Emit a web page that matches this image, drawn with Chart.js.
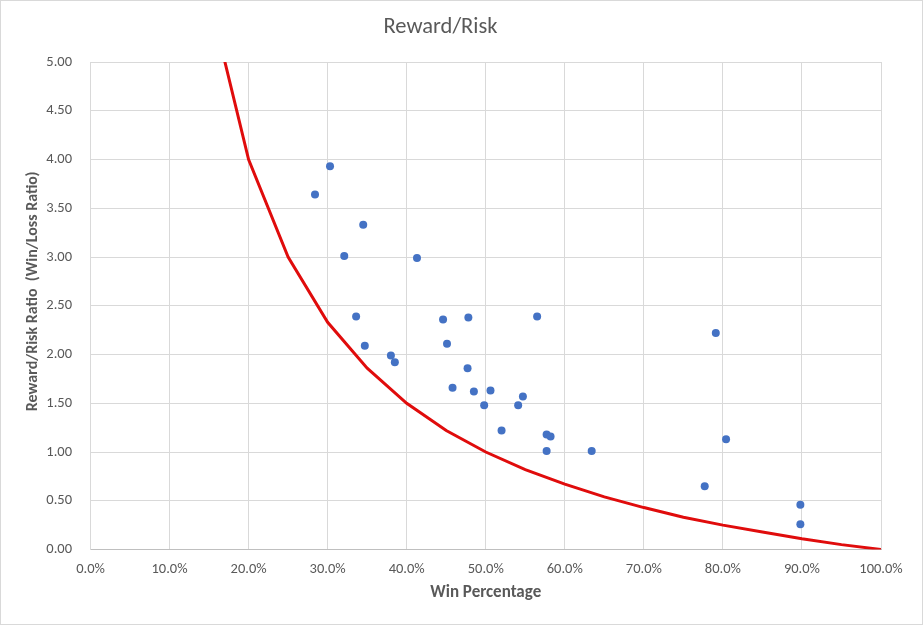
<!DOCTYPE html>
<html>
<head>
<meta charset="utf-8">
<script src="https://cdn.jsdelivr.net/npm/chart.js@4.4.1/dist/chart.umd.min.js"></script>
<style>
  html, body { margin: 0; padding: 0; background: #fff; }
  #wrap { position: relative; width: 923px; height: 625px; }
  canvas { display: block; }
</style>
</head>
<body>
<div id="wrap"><canvas id="c" width="923" height="625"></canvas></div>
<script>
// Scatter: observed win percentage (%) vs reward/risk ratio
const winPct = [28.4, 30.3, 32.1, 34.5, 33.6, 34.7, 38.0, 38.5, 41.3, 44.6,
                45.1, 47.8, 45.8, 47.7, 48.5, 49.8, 50.6, 52.0, 54.1, 54.7,
                56.5, 57.7, 58.2, 57.7, 63.4, 77.7, 79.1, 80.4, 89.8, 89.8];
const rewardRisk = [3.64, 3.93, 3.01, 3.33, 2.39, 2.09, 1.99, 1.92, 2.99, 2.36,
                    2.11, 2.38, 1.66, 1.86, 1.62, 1.48, 1.63, 1.22, 1.48, 1.57,
                    2.39, 1.18, 1.16, 1.01, 1.01, 0.65, 2.22, 1.13, 0.46, 0.26];
// Breakeven curve
const breakevenPct = [15, 20, 25, 30, 35, 40, 45, 50, 55, 60, 65, 70, 75, 80, 85, 90, 95, 100];
const breakevenRatio = [5.67, 4.00, 3.00, 2.33, 1.86, 1.50, 1.22, 1.00, 0.82, 0.67,
                        0.54, 0.43, 0.33, 0.25, 0.18, 0.11, 0.05, 0.00];
// Axis ticks
const xTicks = [0, 10, 20, 30, 40, 50, 60, 70, 80, 90, 100];
const yTicks = [0, 0.5, 1, 1.5, 2, 2.5, 3, 3.5, 4, 4.5, 5];

const FONT = "Carlito, Lato, 'Liberation Sans', sans-serif";
const TXT = '#595959';

const scatterPts = winPct.map((x, i) => ({ x: x, y: rewardRisk[i] }));
const linePts = breakevenPct.map((x, i) => ({ x: x, y: breakevenRatio[i] }));

const frame = {
  id: 'frame',
  beforeDraw(chart) {
    const ctx = chart.ctx;
    ctx.save();
    ctx.fillStyle = '#ffffff';
    ctx.fillRect(0, 0, chart.width, chart.height);
    ctx.restore();
  },
  afterDraw(chart) {
    const ctx = chart.ctx;
    ctx.save();
    ctx.strokeStyle = '#d9d9d9';
    ctx.lineWidth = 1;
    ctx.strokeRect(0.5, 0.5, chart.width - 1, chart.height - 1);
    ctx.restore();
  }
};

new Chart(document.getElementById('c'), {
  type: 'scatter',
  data: {
    datasets: [
      {
        label: 'Breakeven',
        type: 'line',
        data: linePts,
        borderColor: '#e00c0c',
        backgroundColor: '#e00c0c',
        borderWidth: 3,
        pointRadius: 0,
        tension: 0,
        fill: false,
        clip: 0,
        order: 2
      },
      {
        label: 'Results',
        data: scatterPts,
        backgroundColor: '#4472c4',
        borderColor: '#4472c4',
        pointRadius: 4,
        borderWidth: 0,
        order: 1
      }
    ]
  },
  options: {
    responsive: false,
    animation: false,
    devicePixelRatio: 1,
    layout: { padding: { left: 0, right: 42, top: 0, bottom: 0 } },
    plugins: {
      legend: { display: false },
      tooltip: { enabled: false },
      title: {
        display: true,
        text: 'Reward/Risk',
        color: TXT,
        font: { family: FONT, size: 22.5, weight: 'normal', lineHeight: 1.2 },
        padding: { top: 13.5, bottom: 21.5 }
      }
    },
    scales: {
      x: {
        type: 'linear',
        min: 0,
        max: 100,
        afterBuildTicks(scale) { scale.ticks = xTicks.map(v => ({ value: v })); },
        afterFit(scale) { scale.height = 75.5; },
        grid: { color: '#d9d9d9', drawTicks: false, lineWidth: 1 },
        border: { color: '#bfbfbf', width: 1 },
        ticks: {
          color: TXT,
          padding: 11,
          font: { family: FONT, size: 14.5 },
          callback: v => v.toFixed(1) + '%'
        },
        title: {
          display: true,
          text: 'Win Percentage',
          color: TXT,
          font: { family: FONT, size: 17, weight: 'bold', lineHeight: 1.2 },
          padding: { top: 0, bottom: 22 }
        }
      },
      y: {
        type: 'linear',
        min: 0,
        max: 5,
        afterBuildTicks(scale) { scale.ticks = yTicks.map(v => ({ value: v })); },
        afterFit(scale) { scale.width = 90.5; },
        grid: { color: '#d9d9d9', drawTicks: false, lineWidth: 1 },
        border: { color: '#d9d9d9', width: 1 },
        ticks: {
          color: TXT,
          padding: 18.5,
          font: { family: FONT, size: 14.5 },
          callback: v => v.toFixed(2)
        },
        title: {
          display: true,
          text: '        Reward/Risk Ratio  (Win/Loss Ratio)',
          color: TXT,
          font: { family: FONT, size: 16, weight: 'bold', lineHeight: 1.2 },
          padding: { top: 23.5, bottom: 0 }
        }
      }
    }
  },
  plugins: [frame]
});
</script>
</body>
</html>
